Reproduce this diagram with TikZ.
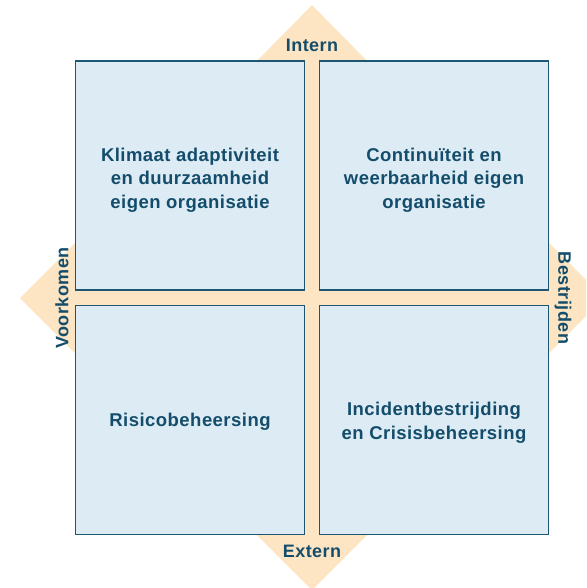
\documentclass[tikz,border=0pt]{standalone}
\usepackage{fontspec}
\setmainfont{Liberation Sans}[LetterSpace=2.5]
\definecolor{beige}{HTML}{FDE4C2}
\definecolor{boxfill}{HTML}{DDEBF4}
\definecolor{boxline}{HTML}{1D5673}
\definecolor{txt}{HTML}{134D6B}
\tikzset{
  quad/.style={draw=boxline, line width=1.5pt, fill=boxfill, minimum width=229pt, minimum height=229pt, inner sep=0pt},
  quadtext/.style={text=txt, font=\fontsize{18.5}{23.5}\selectfont\bfseries, align=center},
  axislabel/.style={text=txt, font=\fontsize{18}{20}\selectfont\bfseries},
}
\begin{document}
\begin{tikzpicture}[x=1pt,y=-1pt]
\useasboundingbox (0,0) rectangle (586,588);
\clip (0,0) rectangle (586,588);
% beige cross with arrow heads
\fill[beige] (312,5) -- (367,61) -- (319,61) -- (319,290) -- (549,290) -- (549,243) -- (604,298)
  -- (549,353) -- (549,306) -- (319,306) -- (319,535) -- (367,535) -- (312,590) -- (257,535)
  -- (305,535) -- (305,306) -- (75,306) -- (75,353) -- (20,298) -- (75,243) -- (75,290)
  -- (305,290) -- (305,61) -- (257,61) -- cycle;
% quadrants
\node[quad] (tl) at (190,175.5) {};
\node[quad] (tr) at (434,175.5) {};
\node[quad] (bl) at (190,420) {};
\node[quad] (br) at (434,420) {};
\node[quadtext] (tlt) at (190,180) {Klimaat adaptiviteit\\en duurzaamheid\\eigen organisatie};
\node[quadtext] (trt) at (434,180) {Continuïteit en\\weerbaarheid eigen\\organisatie};
\node[quadtext] (blt) at (190,422) {Risicobeheersing};
\node[quadtext] (brt) at (434,423) {Incidentbestrijding\\en Crisisbeheersing};
% axis labels
\node[axislabel] (intern) at (312,45) {Intern};
\node[axislabel] (extern) at (312,551) {Extern};
\node[axislabel, rotate=90] (voorkomen) at (62,298) {Voorkomen};
\node[axislabel, rotate=-90] (bestrijden) at (563,298) {Bestrijden};
\end{tikzpicture}
\end{document}
